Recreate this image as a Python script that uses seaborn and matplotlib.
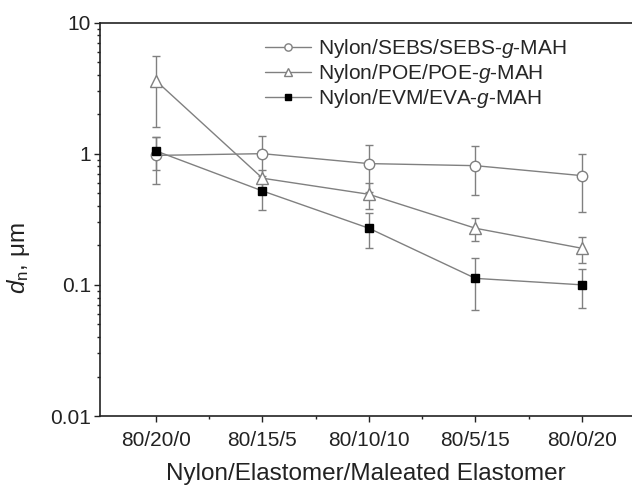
import numpy as np
import pandas as pd
import matplotlib
matplotlib.use("Agg")
import matplotlib.pyplot as plt
import seaborn as sns

categories = ["80/20/0", "80/15/5", "80/10/10", "80/5/15", "80/0/20"]
series_names = ["Nylon/SEBS/SEBS-$g$-MAH", "Nylon/POE/POE-$g$-MAH", "Nylon/EVM/EVA-$g$-MAH"]
sebs = [0.97, 1.00, 0.84, 0.81, 0.68]
sebs_err = [0.38, 0.36, 0.33, 0.33, 0.32]
poe = [3.6, 0.65, 0.49, 0.27, 0.19]
poe_err = [2.0, 0.10, 0.11, 0.055, 0.042]
evm = [1.05, 0.52, 0.27, 0.112, 0.10]
evm_err = [0.30, 0.15, 0.08, 0.048, 0.033]

sns.set_style("ticks")
plt.rcParams['font.family'] = ['Liberation Sans', 'DejaVu Sans']
plt.rcParams['mathtext.fontset'] = 'custom'
plt.rcParams['mathtext.rm'] = 'Liberation Sans'
plt.rcParams['mathtext.it'] = 'Liberation Sans:italic'

fig = plt.figure(figsize=(6.32, 4.87), dpi=100)
ax = fig.add_axes([100/632, 1 - 416/487, 1 - 100/632, (416 - 22.5)/487])

x = np.arange(len(categories))
rows = []
for name, vals in zip(series_names, [sebs, poe, evm]):
    for xi, v in zip(x, vals):
        rows.append({"x": xi, "d": v, "series": name})
df = pd.DataFrame(rows)

gray = "#808080"
styles = [
    dict(marker="o", mfc="white", mec=gray, ms=7.5),
    dict(marker="^", mfc="white", mec=gray, ms=8),
    dict(marker="s", mfc="black", mec="black", ms=6),
]

for name, vals, errs, st in zip(series_names, [sebs, poe, evm], [sebs_err, poe_err, evm_err], styles):
    ax.errorbar(x, vals, yerr=errs, fmt="none", ecolor=gray, elinewidth=1.0,
                capsize=3, capthick=1.0, zorder=2)

for name, st in zip(series_names, styles):
    sub = df[df.series == name]
    sns.lineplot(data=sub, x="x", y="d", ax=ax, color=gray, lw=1.0,
                 marker=st["marker"], markerfacecolor=st["mfc"],
                 markeredgecolor=st["mec"], markersize=st["ms"], markeredgewidth=1.0,
                 label=name, zorder=3, legend=False)

ax.set_yscale("log")
ax.set_ylim(0.01, 10)
ax.set_xlim(-0.525, 4.47)
ax.set_xticks(x)
ax.set_xticklabels(categories)
ax.set_xticks(x[:-1] + 0.5, minor=True)
ax.set_yticks([0.01, 0.1, 1, 10])
ax.set_yticklabels(["0.01", "0.1", "1", "10"])

for side in ["top", "left", "bottom"]:
    ax.spines[side].set_visible(True)
    ax.spines[side].set_color("#222222")
    ax.spines[side].set_linewidth(1.2)
ax.spines["right"].set_visible(False)

ax.tick_params(axis="both", which="major", direction="out", length=4.5, width=1.0,
               labelsize=15, colors="#222222", labelcolor="#222222", right=False, top=False)
ax.tick_params(axis="both", which="minor", direction="out", length=2.5, width=1.0,
               colors="#222222", right=False, top=False)
ax.tick_params(axis="y", which="major", pad=2)
ax.tick_params(axis="x", which="major", pad=6)

ax.set_xlabel("Nylon/Elastomer/Maleated Elastomer", fontsize=17.5, color="#222222", labelpad=10)
ax.set_ylabel("$d_\\mathrm{n}$, \u03bcm", fontsize=17.5, color="#222222")
ax.yaxis.set_label_coords(-0.128, 0.40)

handles, labels = ax.get_legend_handles_labels()
ax.legend(handles, labels, loc="upper left", bbox_to_anchor=(0.279, 1.005), frameon=False,
          fontsize=15, handlelength=2.2, handletextpad=0.35, labelspacing=0.09,
          borderaxespad=0.4, markerscale=0.7)

fig.savefig("out.png", dpi=100)
